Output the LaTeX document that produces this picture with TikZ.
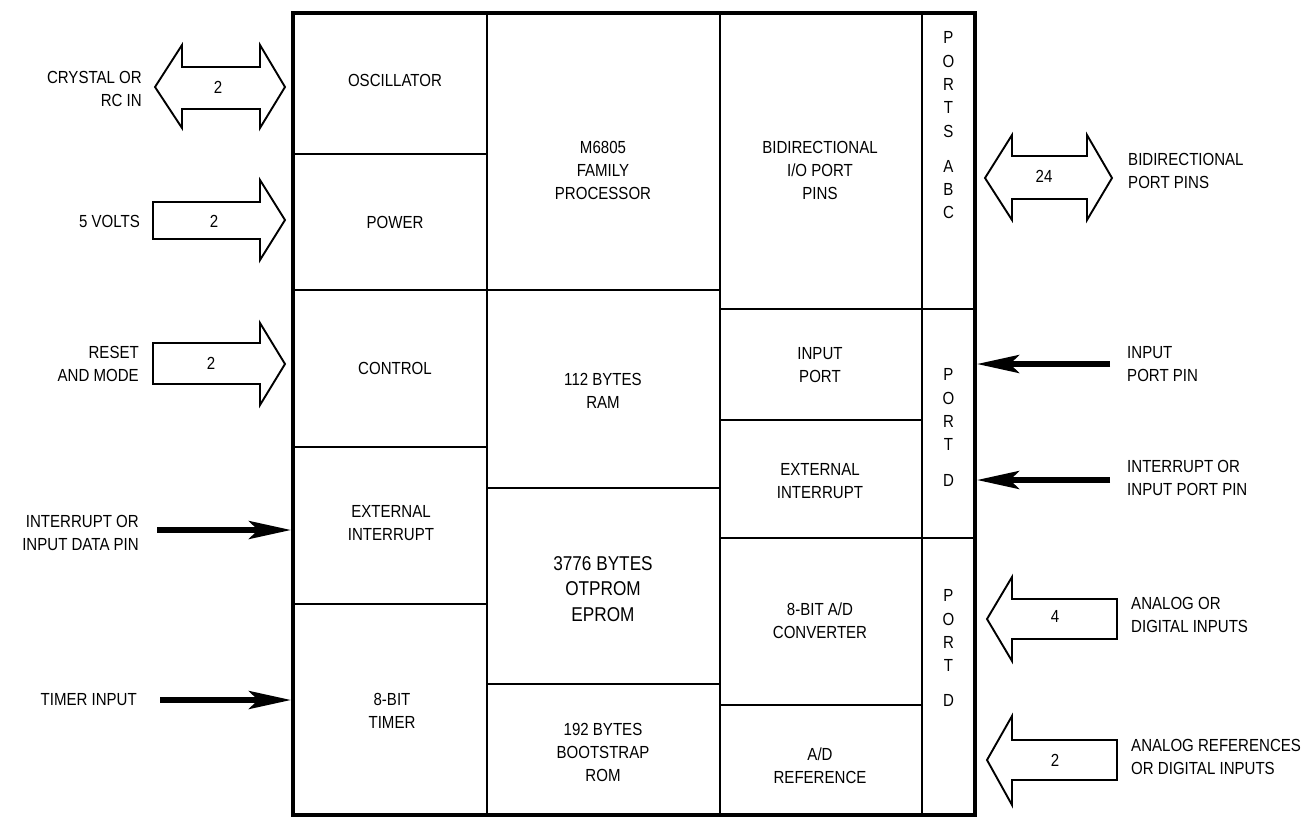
\documentclass[tikz,border=0pt]{standalone}
\usepackage{fontspec}
\setmainfont{Liberation Sans}[FakeStretch=0.86]
\usetikzlibrary{arrows.meta,fit}
\begin{document}
\begin{tikzpicture}[x=1pt,y=-1pt,
  cell/.style={draw, line width=1.7pt, inner sep=0pt, outer sep=0pt},
  txt/.style={font=\fontsize{17.5}{23}\selectfont, align=center, inner sep=0pt},
  bigtxt/.style={font=\fontsize{20}{25.5}\selectfont, align=center, inner sep=0pt},
  lbl/.style={font=\fontsize{17.5}{23}\selectfont, inner sep=0pt},
  num/.style={font=\fontsize{17.5}{20}\selectfont, inner sep=0pt},
  fat/.style={draw, line width=1.9pt, fill=white, line join=miter},
  thin/.style={line width=5.5pt, -{Stealth[length=42pt,width=18pt,inset=9pt]}},
  ports/.style={font=\fontsize{17.5}{23.3}\selectfont, align=center, inner sep=0pt}]
\useasboundingbox (0,0) rectangle (1301,823);

% cells: left column
\node (osc)   [cell, fit={(293,13) (487,154)}] {};
\node (pow)   [cell, fit={(293,154) (487,290)}] {};
\node (ctl)   [cell, fit={(293,290) (487,447)}] {};
\node (ext)   [cell, fit={(293,447) (487,604)}] {};
\node (tmr)   [cell, fit={(293,604) (487,815)}] {};
% middle column
\node (proc)  [cell, fit={(487,13) (720,290)}] {};
\node (ram)   [cell, fit={(487,290) (720,488)}] {};
\node (eprom) [cell, fit={(487,488) (720,684)}] {};
\node (boot)  [cell, fit={(487,684) (720,815)}] {};
% right column
\node (bidir) [cell, fit={(720,13) (922,309)}] {};
\node (inp)   [cell, fit={(720,309) (922,420)}] {};
\node (xint)  [cell, fit={(720,420) (922,538)}] {};
\node (adc)   [cell, fit={(720,538) (922,705)}] {};
\node (adref) [cell, fit={(720,705) (922,815)}] {};
% port column
\node (pabc)  [cell, fit={(922,13) (975,309)}] {};
\node (pd1)   [cell, fit={(922,309) (975,538)}] {};
\node (pd2)   [cell, fit={(922,538) (975,815)}] {};
% outer box
\node (chip)  [draw, line width=4pt, inner sep=0pt, fit={(293,13) (975,815)}] {};

% cell texts
\node (t-osc)   [txt] at (395,80)  {OSCILLATOR};
\node (t-pow)   [txt] at (395,222) {POWER};
\node (t-ctl)   [txt] at (395,368) {CONTROL};
\node (t-ext)   [txt] at (391,523) {EXTERNAL\\INTERRUPT};
\node (t-tmr)   [txt] at (392,711) {8-BIT\\TIMER};
\node (t-proc)  [txt] at (603,170) {M6805\\FAMILY\\PROCESSOR};
\node (t-ram)   [txt] at (603,391) {112 BYTES\\RAM};
\node (t-eprom) [bigtxt] at (603,589) {3776 BYTES\\OTPROM\\EPROM};
\node (t-boot)  [txt] at (603,752) {192 BYTES\\BOOTSTRAP\\ROM};
\node (t-bidir) [txt] at (820,170) {BIDIRECTIONAL\\I/O PORT\\PINS};
\node (t-inp)   [txt] at (820,365) {INPUT\\PORT};
\node (t-xint)  [txt] at (820,481) {EXTERNAL\\INTERRUPT};
\node (t-adc)   [txt] at (820,621) {8-BIT A/D\\CONVERTER};
\node (t-adref) [txt] at (820,766) {A/D\\REFERENCE};

% port letters
\node (t-pabc) [ports] at (948.5,125.5) {P\\O\\R\\T\\S\\[12pt]A\\B\\C};
\node (t-pd1)  [ports] at (948.5,427.5) {P\\O\\R\\T\\[12pt]D};
\node (t-pd2)  [ports] at (948.5,648)   {P\\O\\R\\T\\[11pt]D};

% left labels
\node (l-cry) [lbl, align=right, anchor=east] at (142,89)  {CRYSTAL OR\\RC IN};
\node (l-5v)  [lbl, anchor=east] at (140,221) {5 VOLTS};
\node (l-rst) [lbl, align=right, anchor=east] at (139,364) {RESET\\AND MODE};
\node (l-int) [lbl, align=right, anchor=east] at (139,533) {INTERRUPT OR\\INPUT DATA PIN};
\node (l-tmr) [lbl, anchor=east] at (137,700) {TIMER INPUT};
% right labels
\node (r-bid) [lbl, align=left, anchor=west] at (1128,171) {BIDIRECTIONAL\\PORT PINS};
\node (r-inp) [lbl, align=left, anchor=west] at (1127,364.5) {INPUT\\PORT PIN};
\node (r-int) [lbl, align=left, anchor=west] at (1127,478) {INTERRUPT OR\\INPUT PORT PIN};
\node (r-ana) [lbl, align=left, anchor=west] at (1131,615) {ANALOG OR\\DIGITAL INPUTS};
\node (r-ref) [lbl, align=left, anchor=west] at (1131,757) {ANALOG REFERENCES\\OR DIGITAL INPUTS};

% fat arrows, left
\draw[fat] (155,87) -- (182,45) -- (182,67) -- (260,67) -- (260,45) -- (285,87)
  -- (260,128) -- (260,109) -- (182,109) -- (182,128) -- cycle;
\node (n-cry) [num] at (218,87) {2};
\draw[fat] (153,202) -- (260,202) -- (260,180) -- (285,220) -- (260,260) -- (260,239) -- (153,239) -- cycle;
\node (n-5v) [num] at (214,221) {2};
\draw[fat] (153,343) -- (260,343) -- (260,323) -- (285,364) -- (260,405) -- (260,384) -- (153,384) -- cycle;
\node (n-rst) [num] at (211,363) {2};

% fat arrows, right
\draw[fat] (985,178) -- (1012,135) -- (1012,156) -- (1087,156) -- (1087,135) -- (1112,178)
  -- (1087,220) -- (1087,199) -- (1012,199) -- (1012,220) -- cycle;
\node (n-bid) [num] at (1044,176) {24};
\draw[fat] (987,619) -- (1012,577) -- (1012,599) -- (1117,599) -- (1117,639) -- (1012,639) -- (1012,661) -- cycle;
\node (n-ana) [num] at (1055,616) {4};
\draw[fat] (987,760) -- (1012,716) -- (1012,740) -- (1117,740) -- (1117,780) -- (1012,780) -- (1012,805) -- cycle;
\node (n-ref) [num] at (1055,760) {2};

% thin arrows
\coordinate (s-int) at (157,530);
\coordinate (e-int) at (chip.west |- s-int);
\draw[thin] (s-int) -- (e-int);
\coordinate (s-tmr) at (160,700);
\coordinate (e-tmr) at (chip.west |- s-tmr);
\draw[thin] (s-tmr) -- (e-tmr);
\coordinate (s-inp) at (1110,364);
\coordinate (e-inp) at (chip.east |- s-inp);
\draw[thin] (s-inp) -- (e-inp);
\coordinate (s-xin) at (1110,480);
\coordinate (e-xin) at (chip.east |- s-xin);
\draw[thin] (s-xin) -- (e-xin);
\end{tikzpicture}
\end{document}
